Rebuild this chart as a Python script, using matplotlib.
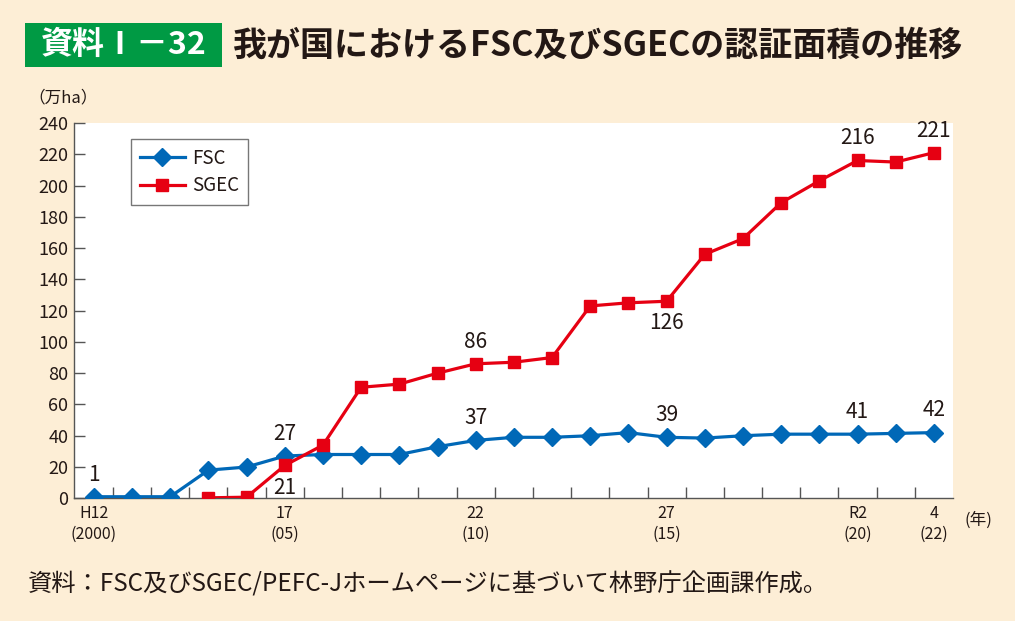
import numpy as np
import matplotlib
matplotlib.use("Agg")
import matplotlib.pyplot as plt
from matplotlib.patches import Rectangle

plt.rcParams['font.family'] = ['Noto Sans CJK JP', 'DejaVu Sans']

# データ (万ha)
years = list(range(2000, 2023))
fsc = [1, 1, 1, 18, 20, 27, 28, 28, 28, 33, 37, 39, 39, 40, 42, 39, 38.5, 40, 41, 41, 41, 41.5, 42]
sgec_start = 3
sgec = [0.3, 0.7, 21, 34, 71, 73, 80, 86, 87, 90, 123, 125, 126, 156, 166, 189, 203, 216, 215, 221]

tick_idx = [0, 5, 10, 15, 20, 22]
tick_labels = ["H12\n(2000)", "17\n(05)", "22\n(10)", "27\n(15)", "R2\n(20)", "4\n(22)"]

fsc_lbl = {0: "1", 5: "27", 10: "37", 15: "39", 20: "41", 22: "42"}
sgec_lbl = {5: ("21", "below"), 10: ("86", "above"), 15: ("126", "below"),
            20: ("216", "above"), 22: ("221", "above")}

bg = "#FDEED6"
blue = "#0068B7"
red = "#E60012"
green = "#009A44"
txt = "#231815"

fig = plt.figure(figsize=(10.15, 6.21), dpi=100, facecolor=bg)
ax = fig.add_axes([0.0729, 0.1976, 0.866, 0.6044])
ax.set_facecolor("white")

x = np.arange(len(years))
x_sgec = x[sgec_start:]
ax.plot(x, fsc, color=blue, lw=2.3, marker="D", ms=9.5, label="FSC", zorder=3)
ax.plot(x_sgec, sgec, color=red, lw=2.3, marker="s", ms=8.5, label="SGEC", zorder=3)

for i, s in fsc_lbl.items():
    ax.annotate(s, (x[i], fsc[i]), xytext=(0, 8), textcoords="offset points",
                ha="center", va="bottom", fontsize=15, color=txt)
for i, (s, pos) in sgec_lbl.items():
    v = sgec[i - sgec_start]
    off = 8 if pos == "above" else -8
    ax.annotate(s, (x[i], v), xytext=(0, off), textcoords="offset points",
                ha="center", va="bottom" if pos == "above" else "top", fontsize=15, color=txt)

ax.set_xlim(-0.52, 22.5)
ax.set_ylim(0, 240)
ax.set_yticks(np.arange(0, 241, 20))
ax.tick_params(axis="y", direction="in", length=8, width=1, color="#555555",
               labelsize=13, labelcolor=txt, pad=4)

# 区切り目盛
ax.set_xticks(np.arange(0.5, 22, 1), minor=True)
ax.set_xticks(tick_idx)
ax.set_xticklabels(tick_labels, fontsize=11.5, color=txt, linespacing=1.25)
ax.tick_params(axis="x", which="major", length=0, pad=5)
ax.tick_params(axis="x", which="minor", direction="in", length=8, width=1, color="#555555")

for sp in ["top", "right"]:
    ax.spines[sp].set_visible(False)
for sp in ["left", "bottom"]:
    ax.spines[sp].set_color("#555555")
    ax.spines[sp].set_linewidth(1)

leg = ax.legend(loc="upper left", bbox_to_anchor=(0.065, 0.957), borderaxespad=0,
                fontsize=13.5, frameon=True, fancybox=False, edgecolor="#555555",
                handlelength=2.4, borderpad=0.45, labelspacing=0.35, handletextpad=0.4)
leg.get_frame().set_linewidth(1)
for t in leg.get_texts():
    t.set_color(txt)

fig.text(0.028, 0.842, "（万ha）", fontsize=12, color=txt, ha="left", va="center")
fig.text(0.950, 0.162, "(年)", fontsize=12, color=txt, ha="left", va="center")

# タイトル
fig.patches.append(Rectangle((25 / 1015, 1 - 67 / 621), 197 / 1015, 44 / 621,
                             transform=fig.transFigure, facecolor=green, edgecolor="none"))
fig.text(124 / 1015, 1 - 45 / 621, "資料Ⅰ－32", fontsize=23, fontweight="bold",
         color="white", ha="center", va="center")
fig.text(233 / 1015, 1 - 45 / 621, "我が国におけるFSC及びSGECの認証面積の推移",
         fontsize=24.5, fontweight="bold", color=txt, ha="left", va="center")

fig.text(28 / 1015, 1 - 585 / 621, "資料：FSC及びSGEC/PEFC-Jホームページに基づいて林野庁企画課作成。",
         fontsize=17.5, color=txt, ha="left", va="center")

fig.savefig("out.png", dpi=100, facecolor=bg)
